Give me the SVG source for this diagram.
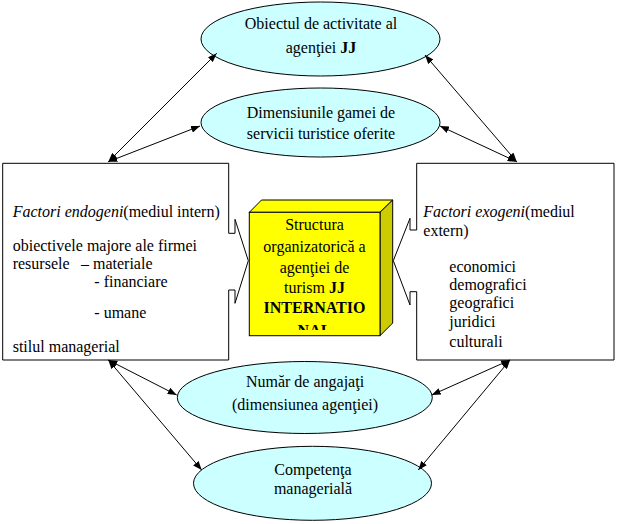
<svg xmlns="http://www.w3.org/2000/svg" width="618" height="524" viewBox="0 0 618 524">
<style>
text{font-family:"Liberation Serif","Times New Roman",serif;font-size:16px;fill:#000}
.c{text-anchor:middle}
.ell{fill:#CCFFFF;stroke:#000;stroke-width:1}
.box{fill:#fff;stroke:#000;stroke-width:1}
.ln{fill:none;stroke:#000;stroke-width:1}
.con{stroke:#000;stroke-width:1;marker-start:url(#ah);marker-end:url(#ah)}
</style>
<defs>
<marker id="ah" markerUnits="userSpaceOnUse" markerWidth="9" markerHeight="7" refX="9" refY="3.5" orient="auto-start-reverse"><path d="M0,0 L9,3.5 L0,7 z" fill="#000"/></marker>
<clipPath id="cubeclip"><rect x="249.3" y="212.3" width="130.7" height="117.7"/></clipPath>
</defs>
<rect width="618" height="524" fill="#fff"/>
<g id="endogeni">
<path class="box" d="M228.7,233.3 V163.3 H2.7 V360 H228.7 V290"/>
<path class="ln" d="M228.7,233.3 H235 V219.3 L248.3,260.7 L235,303.3 V290 H228.7"/>
<text x="12.7" y="216.7"><tspan font-style="italic">Factori endogeni</tspan>(mediul intern)</text>
<text x="12.7" y="250.5">obiectivele majore ale firmei</text>
<text x="12.7" y="269.3">resursele<tspan x="81">– materiale</tspan></text>
<text x="94.3" y="287.3">- financiare</text>
<text x="94.3" y="318.3">- umane</text>
<text x="12.7" y="351.7">stilul managerial</text>
</g>
<g id="exogeni">
<path class="box" d="M416.7,230 V163.3 H614 V360 H416.7 V291.7"/>
<path class="ln" d="M416.7,230 H410 V218.3 L393.3,260.7 L410,305 V291.7 H416.7"/>
<text x="423.3" y="216.7"><tspan font-style="italic">Factori exogeni</tspan>(mediul</text>
<text x="423.3" y="236">extern)</text>
<text x="449.3" y="271.7">economici</text>
<text x="449.3" y="290">demografici</text>
<text x="449.3" y="308.3">geografici</text>
<text x="449.3" y="326.7">juridici</text>
<text x="449.3" y="346.7">culturali</text>
</g>
<g id="structura">
<path d="M249.3,212.3 L261.5,200 H392.7 L380,212.3 z" fill="#FFFF00" stroke="#000" stroke-width="1"/>
<path d="M380,212.3 L392.7,200 V323 L380,335.7 z" fill="#CCCC00" stroke="#000" stroke-width="1"/>
<rect x="249.3" y="212.3" width="130.7" height="123.4" fill="#FFFF00" stroke="#000" stroke-width="1"/>
<g clip-path="url(#cubeclip)">
<text class="c" x="314.5" y="230">Structura</text>
<text class="c" x="314.5" y="251.7">organizatorică a</text>
<text class="c" x="314.5" y="273.3">agenţiei de</text>
<text class="c" x="314.5" y="293.3">turism <tspan font-weight="bold">JJ</tspan></text>
<text class="c" x="314.5" y="313.3" font-weight="bold">INTERNATIO</text>
<text class="c" x="314.5" y="335.5" font-weight="bold">NAL</text>
</g>
</g>
<g id="obiectul">
<ellipse class="ell" cx="320.5" cy="39" rx="119.5" ry="37"/>
<text class="c" x="321" y="29.3">Obiectul de activitate al</text>
<text class="c" x="321" y="53">agenţiei <tspan font-weight="bold">JJ</tspan></text>
</g>
<g id="dimensiunile">
<ellipse class="ell" cx="320.5" cy="122.5" rx="119.5" ry="34.5"/>
<text class="c" x="321" y="118.3">Dimensiunile gamei de</text>
<text class="c" x="321" y="139.3">servicii turistice oferite</text>
</g>
<g id="numar">
<ellipse class="ell" cx="304.8" cy="397.5" rx="127.5" ry="36"/>
<text class="c" x="305" y="387.3">Număr de angajaţi</text>
<text class="c" x="305" y="410">(dimensiunea agenţiei)</text>
</g>
<g id="competenta">
<ellipse class="ell" cx="312.5" cy="483.3" rx="119" ry="37"/>
<text class="c" x="313" y="475">Competenţa</text>
<text class="c" x="313" y="494">managerială</text>
</g>
<g id="connectors">
<line class="con" x1="108.3" y1="161.7" x2="216.7" y2="53.3"/>
<line class="con" x1="108.3" y1="161.7" x2="200" y2="126"/>
<line class="con" x1="516.7" y1="161.7" x2="425" y2="55"/>
<line class="con" x1="516.7" y1="161.7" x2="440" y2="126"/>
<line class="con" x1="108.3" y1="360" x2="176.7" y2="395"/>
<line class="con" x1="108.3" y1="360" x2="201.7" y2="470"/>
<line class="con" x1="510" y1="360" x2="431.7" y2="395"/>
<line class="con" x1="510" y1="360" x2="418.3" y2="470"/>
</g>
</svg>
